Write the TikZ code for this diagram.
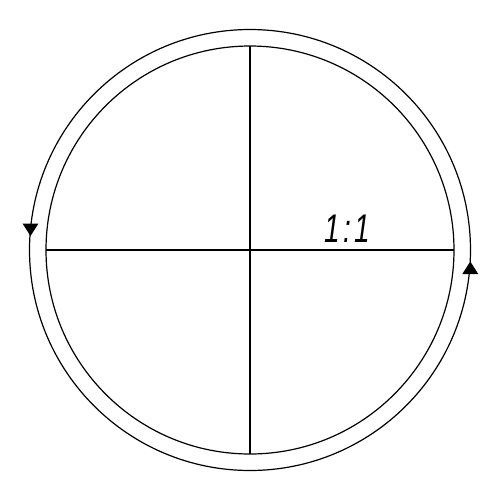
\documentclass[tikz,border=0pt]{standalone}
\usepackage{fontspec}
\newfontfamily\labelfont[LetterSpace=12]{Liberation Sans}
\begin{document}
\begin{tikzpicture}[x=0.5pt,y=-0.5pt,
  ring/.style={line width=0.6pt},
  tip/.style={fill=black,draw=none},
  lbl/.style={font=\labelfont\itshape\fontsize{20}{20}\selectfont, inner sep=0pt, xscale=0.7}]
\useasboundingbox (0,0) rectangle (500,500);
\coordinate (c) at (250,250);
\coordinate (w) at (46,250);
\coordinate (e) at (454,250);
\coordinate (n) at (250,46);
\coordinate (s) at (250,454);
\draw[ring] (c) circle[radius=220.5];
\draw[ring] (c) circle[radius=204];
\draw[ring] (w) -- (e);
\draw[ring] (n) -- (s);
\fill[tip] (22.5,223.5) -- (38.5,223.5) -- (30.5,236) -- cycle;
\fill[tip] (462.3,274) -- (478.3,274) -- (470.3,261.5) -- cycle;
\node[lbl] (r) at (347,229) {1:1};
\end{tikzpicture}
\end{document}
